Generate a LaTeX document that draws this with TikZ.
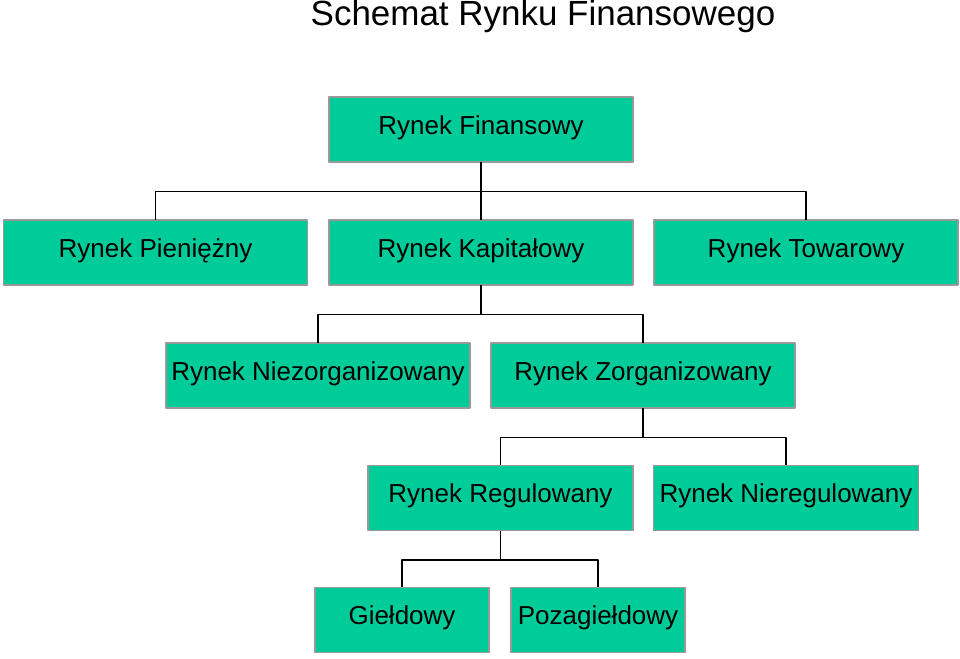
\documentclass[tikz,border=0pt]{standalone}
\usepackage{fontspec}
\setmainfont{Liberation Sans}
\definecolor{rynek}{HTML}{00CC99}
\definecolor{ramka}{HTML}{999999}
\tikzset{
  box/.style={draw=ramka, line width=1.1pt, fill=rynek, minimum width=6.08cm, minimum height=1.3cm, inner sep=0pt, text height=10.8pt, text depth=5.4pt, font=\fontsize{14.8}{17}\selectfont},
  link/.style={line width=.85pt, line cap=rect},
}
\begin{document}
\begin{tikzpicture}[line join=round]
\useasboundingbox (0,0) rectangle (19.2,-13.16);
\node (title) at (10.86,-0.33) {\fontsize{19.9}{22}\selectfont Schemat Rynku Finansowego};
% poziom 1
\node[box] (fin) at (9.62,-2.59) {Rynek Finansowy};
% poziom 2
\node[box] (pien) at (3.11,-5.05) {Rynek Pieniężny};
\node[box] (kap) at (9.62,-5.05) {Rynek Kapitałowy};
\node[box] (tow) at (16.12,-5.05) {Rynek Towarowy};
% poziom 3
\node[box] (niez) at (6.36,-7.51) {Rynek Niezorganizowany};
\node[box] (zorg) at (12.86,-7.51) {Rynek Zorganizowany};
% poziom 4
\node[box, minimum width=5.3cm] (reg) at (10.01,-9.96) {Rynek Regulowany};
\node[box, minimum width=5.3cm] (niereg) at (15.72,-9.96) {Rynek Nieregulowany};
% poziom 5
\node[box, minimum width=3.48cm] (giel) at (8.04,-12.40) {Giełdowy};
\node[box, minimum width=3.48cm] (poza) at (11.96,-12.40) {Pozagiełdowy};
\draw[link] (fin.south) -- ++(0,-.57) -| (pien.north) (fin.south) -- (kap.north) (fin.south) ++(0,-.57) -| (tow.north);
\draw[link] (kap.south) -- ++(0,-.57) -| (niez.north) (kap.south) ++(0,-.57) -| (zorg.north);
\draw[link] (zorg.south) -- ++(0,-.57) -| (reg.north) (zorg.south) ++(0,-.57) -| (niereg.north);
\draw[link] (reg.south) -- ++(0,-.57) -| (giel.north) (reg.south) ++(0,-.57) -| (poza.north);
\end{tikzpicture}
\end{document}
